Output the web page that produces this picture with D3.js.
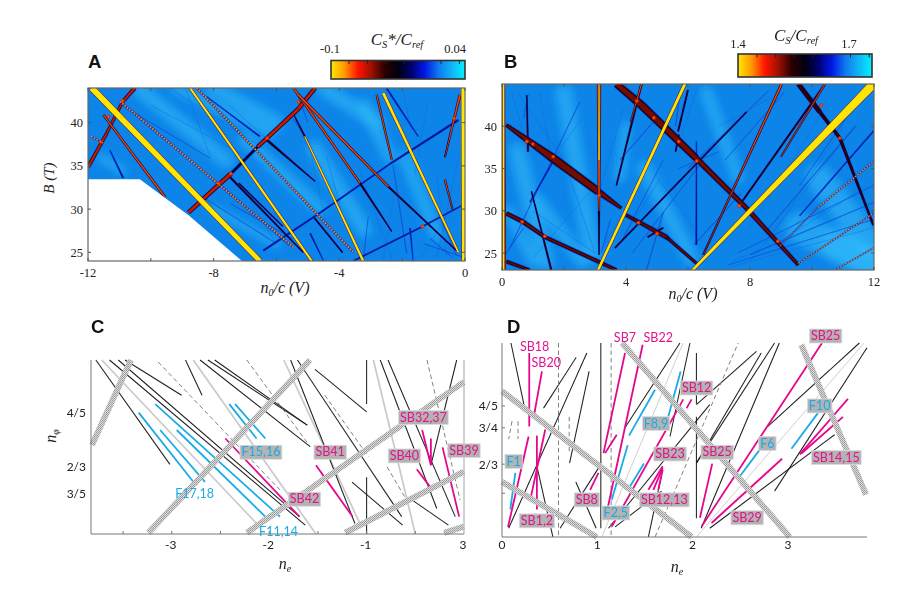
<!DOCTYPE html>
<html><head><meta charset="utf-8">
<script src="https://cdn.jsdelivr.net/npm/d3@7"></script>
<style>html,body{margin:0;background:#fff}svg{display:block}</style></head><body>
<svg id="c" width="900" height="608"></svg>
<script>
// ---------- Panel A ridges: [n0/c start, B start, n0/c end, B end, strength start, strength end]
const glowA=[[-10.4,44,-7.6,35.6,7],[-9.2,44,-6.2,38.8,5],[-7,38,-4.6,30,6],[-4.8,37,-3.2,27.6,7],[-3.2,42,-2.4,36,6],[-1.9,36,-.9,27,6],[-11.6,36,-10.9,34.4,4],[-8,30,-6,26,4],[-8,44,-6,40,7],[-4.5,44,-2.8,40,7]];
const fanA=[[-9.4,44,-6.4,37],[-8.9,44,-8.1,36],[-10,42,-6.4,35],[-7.5,42,-5.5,35.5],[-5,38,-4.4,28],[-4.4,36,-3.8,28],[-3.4,35,-2.3,24],[-1.2,42,-1.6,34],[-.9,34,-.6,24.6],[-.2,36,-.9,24.4],[-.3,31,-1.4,24.3],[-6.5,33,-5.5,25.5],[-7,32,-6,26],[-2.2,33,-2.6,24.2],[-8.2,30,-6.7,24.6],[-8.4,31,-7.1,25.8],[-2,44,-1.7,39]];
const navyA=[[-6.42,25.2,-4.6,29.6,1.3,1.3],[-4.6,29.6,-2.4,35.2,1.3,1.1],[-2.4,35.2,-.21,40.3,1.2,1.5],[-3.56,24,-1.4,27.9,1.1,1.1],[-1.4,27.9,0,30.6,1.1,.7],[-11.3,36.8,-10.88,33.6,.5,1.4],[-4.93,27.2,-4.5,24,1.2,.5],[-3.08,29.1,-3.24,24,.3,.8],[-1.75,27.8,-1.65,24,1,.3],[-2.29,35.1,-1.86,24.9,.5,.8],[-10.88,41.9,-8.12,35.9,.5,.3],[-8.22,43,-6.53,38.4,.4,1],[-7.45,30.6,-5.5,26.6,.4,.6],[-8.6,32,-6,26,.3,.4],[-2.5,44,-1.49,38.4,1.3,.6],[-5.46,40.4,-5.1,38.4,.5,.6],[-7.7,32.6,-5.6,25.8,.4,.8],[-.9,30,-.27,24.6,.7,.5],[-1.1,26.6,-.4,24.4,.5,.3],[-1.3,26,-.03,24.4,.5,.5],[-5.3,43,-5,40,.8,.4]];
const darkA=[[-6.31,38,-4.77,33.2,1.7,.3],[-7.48,33.7,-5.15,25,1.3,.5],[-3.34,33,-2.33,27.4,1.4,.4],[-2.44,32.6,-.27,25.2,1.2,.5],[-5.1,38.4,-5.46,41,1,.3],[-4.8,29,-3.9,25,.7,.7],[-.64,36,-.45,39,.6,.6],[-7.2,33,-5.8,28,.7,.3]];
const redA=[[-8.8,29.6,-7.45,34.1,3,3.4],[-6.6,37.2,-5.3,41.6,2.8,3.2],[-5.3,41.6,-4.77,44,3.2,2.8],[-11.99,34.9,-11.4,38.8,2.6,2],[-11.4,38.8,-10.9,42.4,1.8,1.8],[-10.9,42.4,-10.51,44,2.2,2.8]];
const blackBandA=[[-7.45,34.1,-6.6,37.2,2.2,2.2]];
const orangeA=[[-11.51,40.9,-9.55,31.4,1.2,1.4],[-2.81,43.2,-2.33,35.7,1,.8],[-.16,43.2,-.64,36,1.7,.5],[-.64,33.4,-.39,29.9,1,.5],[-5.46,44,-3.34,33,1.4,1.1],[-5.33,43.3,-2.44,32.6,1.8,1.3]];
const dotA=[[-10.98,42.45,-5.46,25.6,1.8,1.4],[-8.54,44,-3.55,25,1.6,1.6],[-11.9,38.4,-11.5,37.6,1.2,1.2]];
const yellowA=[[-11.88,44,-6.53,24,5.5,4.2],[-8.75,44,-4.88,24,1.7,1.7],[-5.1,38.4,-3.24,24,.6,1.9],[-2.6,43.4,-.21,25,2.4,1.2],[-.05,44,-.05,24,3.6,2.6]];
const spotsA=[[-10.9,42.5],[-11.35,40.7],[-11.6,37.8],[-6.3,38.2],[-7.45,34.1],[-7.85,33],[-1.35,28],[-5.3,42.4],[-.35,40.5]];
const maskA=[[-12,33.45],[-10.35,33.45],[-8.8,29.3],[-7.1,24],[-12,24]];
// ---------- Panel B ridges
const glowB=[[.5,37,1.4,24,8],[2,44,2.9,25,8],[1.2,31,2.6,24,6],[4.6,35,6.1,24.4,7],[6.6,44,7.6,34,6],[10.2,34,11.9,26,12],[9.6,28,11.8,24,14],[.2,30,1,24,5],[4,40,3.8,34,5],[10.8,26,11.9,24,14]];
const fanB=[[.3,44,.8,38],[.5,44,2,36],[1.2,44,1.6,36.4],[2.6,41,1.7,36.5],[2,36,3,25],[3,33,1,24.4],[1,30,3,25],[3.9,42,3.2,33],[3.8,29,3.1,25],[6.3,44.6,5.8,39],[5.1,33.8,3.7,25.6],[6.2,28,5,34],[10.4,42,8,28],[11,40,8.5,26],[11.6,41,8,24],[11.9,36,9,27],[11.8,33,8.8,26],[12,31,7.4,24],[12,28,7.4,23.4],[9,44,7,40]];
const navyB=[[2.51,42.9,.25,25.6,.5,.7],[1.7,36.2,.9,31,1,.8],[5.2,29.8,4.66,23,.7,.9],[6.27,38.2,6.27,26,.5,1.3],[5.75,44.2,5.6,40,.8,.8],[9.1,44,7.2,36,.5,.3],[8.6,44.2,6,35,.5,.4],[11.4,40,8.5,27.5,.9,.5],[12,39.5,9.6,29.4,1,.5],[7,37,5.7,35,.4,.4],[6.5,36,4.2,25,.3,.3],[5.2,36,3.8,26,.4,.4],[3.8,36,5,41,.5,.5],[.1,24.8,.7,28,.5,.5],[6.2,26,7.7,32,.4,.4],[7.6,25,12,33,.4,.4],[8,24.8,12,31,.4,.4],[7.3,23.6,12,29,.4,.4],[11.6,43.6,9.6,33,.5,.3],[3.5,29,3.2,25,.5,.5],[.85,43.8,.7,41,.4,.4]];
const darkB=[[.8,43.7,.84,37,.4,1.2],[.95,32.3,1.59,23,.5,1.2],[7.89,41.7,3.64,25.6,.7,.7],[4.5,45,3.69,33,1.4,.7],[6,44.3,5.68,39.4,.9,1],[5.7,39,5.6,37,1.2,.8],[10.42,45,7.67,30.7,1.1,1],[9.02,45,6.49,24.8,.7,1],[3.13,30,3.13,24.8,1.2,.4],[4.7,26.9,5.2,28,1,1],[9.56,45,10.25,41.7,4,4],[10.25,41.7,10.9,38.6,3,2.6],[10.9,38.6,11.98,28.3,2.6,1.4]];
const maroonB=[[.14,40.15,1.65,36.2,1.5,7],[1.65,36.2,3.1,32.3,7,6],[3.1,32.3,3.85,30.3,4.5,1.2],[.14,29.7,.68,28.7,2.4,2.6],[.68,28.7,1.38,26.9,2.6,1.8],[1.38,26.9,3.1,24,2,1.8],[3.1,24,3.7,23,1.8,1.2],[.14,24,.89,23,1.8,1],[4.0,29.5,5.3,26.9,1.4,2.8],[5.3,26.9,5.4,26.6,2.8,.6],[5.3,26.9,6.27,23.8,1.4,1.2],[3.69,45,4.5,42.5,5,6.4],[4.5,42.5,6.27,36.2,6.4,5],[6.27,36.2,7.89,30.3,4,2.8],[7.89,30.3,9.56,23.6,3,1.6]];
const orangeB=[[.03,45,.06,23,3,3],[3.13,45,3.13,32,3,1.4],[3.13,32,3.13,30,1.4,.6],[9.02,45,6.49,24.8,1.6,.4],[10.42,45,9,36.4,.9,.5],[4.5,45,4.15,40.5,1.1,.4]];
const dotB=[[10.2,30.4,11.98,35.8,1.1,1.1],[9.56,23.8,11.98,29.7,1,1],[10.74,23,11.98,25.6,.9,.9],[8.9,25.6,10.2,30.4,.6,.6]];
const yellowB=[[3.1,23,5.9,45,2,2.5],[6.15,23,11.98,45,2,8],[.05,45,.05,23,1.2,1.2],[3.13,45,3.13,36,.6,1]];
const spotsB=[[1.65,36.4],[.8,38.2],[1,37.9],[3.13,31.8],[6.28,35.9],[4.4,28.6],[5,27.3],[.65,28.7],[4.9,41],[5.7,38.2],[7.65,30.6],[8.9,26.4],[10.3,42.5],[10.9,38.6],[4.35,43],[1.38,27]];
// ---------- Panels C and D: [n_e start, n_phi start, n_e end, n_phi end]
const blackC=[[-3.78,.93,-3.02,.672],[-3.64,.93,-1.63,.522],[-3.55,.93,-1.69,.543],[-3.48,.93,-2.9,.843],[-2.86,.93,-2.69,.843],[-2.71,.93,-1.58,.716],[-2.63,.93,-1.61,.769],[-2.56,.93,-1.61,.769],[-1.53,.907,-1,.802],[-1.78,.93,-1.12,.526],[-1.71,.93,-.64,.543],[-1,.93,-1,.821],[-1,.64,-1,.5],[-1.15,.628,-.63,.522],[-.86,.93,-.28,.563],[-.78,.93,-.09,.543],[-.075,.93,-.34,.67],[-.52,.582,-.16,.522]];
const grayC=[[-3.72,.93,-2.13,.526],[-2.78,.93,-1.52,.5],[-1.85,.93,-1.07,.526],[-.93,.93,-.5,.5],[0,.93,0,.5]];
const dashC=[[-3.14,.925,-1.89,.609],[-2.23,.93,-1.58,.716],[-1.43,.843,-.98,.691],[-.79,.666,-.59,.584],[-.38,.93,-.04,.584]];
const blueC=[[-3.34,.8,-2.78,.629],[-3.12,.757,-2.66,.629],[-3.17,.821,-1.89,.543],[-2.95,.757,-2.04,.543],[-2.41,.821,-2.13,.736],[-2.35,.821,-2.04,.736]];
const pinkC=[[-2.45,.736,-1.69,.543],[-1.52,.67,-1.145,.543],[-.485,.66,-.35,.617],[-.43,.757,-.34,.67],[-.34,.736,-.34,.67],[-.22,.714,-.05,.543]];
const bandC=[[-3.82,.72,-3.42,.93],[-3.24,.503,-1.58,.93],[-2.23,.503,0,.876],[-1.22,.503,0,.654],[-.205,.503,0,.518]];
const labelsC=[["F15,16",-2.085,.702,"b",1],["SB41",-1.374,.702,"p",1],["SB42",-1.638,.586,"p",1],["SB32,37",-.417,.788,"p",1],["SB40",-.612,.693,"p",1],["SB39",0,.706,"p",1],["F17,18",-2.766,.599,"b",0],["F11,14",-1.904,.506,"b",0]];
const blackD=[[.094,.944,.234,.799],[.07,.52,.89,.921],[.436,.795,.778,.911],[.61,.52,1.01,.657],[1.29,.75,1.867,.944],[.914,.879,.709,.669],[.366,.662,.534,.5],[.775,.626,.988,.52],[1.037,.944,1.037,.52],[1.972,.944,1.763,.73],[1.187,.523,1.675,.605],[1.536,.5,1.675,.643],[2.04,.669,2.86,.944],[2.04,.803,2.67,.925],[2.04,.921,2.04,.805],[2.04,.775,2.04,.543],[2.04,.669,2.72,.921],[2.09,.52,2.91,.944],[2.79,.753,3.75,.944],[2.86,.605,3.83,.933],[2.18,.52,3.49,.734],[1.117,.52,2.18,.803]];
const grayD=[[1.047,.5,1.9,.944],[2.04,.5,3.8,.944]];
const dashD=[[.593,.944,.593,.5],[1.145,.944,1.145,.5],[.105,.765,.07,.724],[.168,.765,.168,.724],[.705,.775,.705,.692],[1.606,.5,2.478,.944]];
const blueD=[[.087,.563,.14,.647],[1.152,.585,1.319,.71],[1.333,.732,1.606,.837],[1.344,.616,1.49,.668],[1.745,.776,1.874,.879],[2.496,.639,2.705,.7],[3.037,.702,3.316,.784]];
const pinkD=[[.063,.523,.279,.73],[.286,.921,.286,.753],[.332,.773,.419,.879],[.297,.585,.454,.746],[.366,.732,.366,.563],[.925,.608,1.012,.647],[1.082,.692,1.204,.734],[1.065,.692,1.291,.921],[1.106,.563,1.476,.94],[1.152,.524,1.902,.815],[1.937,.795,1.99,.815],[1.536,.608,1.686,.662],[1.588,.608,1.686,.658],[1.64,.608,1.686,.654],[2.077,.544,2.206,.668],[2.094,.524,3.358,.944],[2.199,.532,2.939,.679],[3.124,.689,3.63,.816],[3.141,.691,3.578,.775]];
const bandD=[[0,.834,1.99,.5],[1.26,.944,3.02,.5],[0,.626,.995,.5],[3.14,.94,3.82,.597]];
const labelsD=[["SB18",.342,.935,"p",0],["SB20",.464,.898,"p",0],["SB7",1.29,.956,"p",0],["SB22",1.64,.956,"p",0],["SB25",3.396,.96,"p",1],["SB12",2.042,.841,"p",1],["F1",.122,.673,"b",1],["F8,9",1.616,.76,"b",1],["SB23",1.763,.69,"p",1],["SB25",2.258,.694,"p",1],["F6",2.785,.714,"b",1],["F10",3.333,.8,"b",1],["SB14,15",3.508,.682,"p",1],["SB8",.89,.585,"p",1],["SB12,13",1.703,.585,"p",1],["F2,5",1.194,.555,"b",1],["SB1,2",.366,.537,"p",1],["SB29",2.572,.544,"p",1]];
const colormap=["#ffe600","#ff9a00","#ff1500","#a01000","#2a0000","#000010","#00006e","#0018e6","#0f78ee","#12b4f4","#00f2ff"];
const ticksXA=[-12,-8,-4,0], ticksXB=[0,4,8,12], ticksYA=[25,30,35,40], ticksYB=[25,30,35,40];
const ticksC=[-3,-2,-1,0], tickNamesC=["-3","-2","-1","3"], fracsC=[.8,2/3,.6], fracNamesC=["4/5","2/3","3/5"];
const ticksD=[0,1,2,3], fracsD=[.8,.75,2/3,.6], fracNamesD=["4/5","3/4","2/3",""];

const svg=d3.select("#c");
const defs=svg.append("defs");
const serif="'Liberation Serif',serif", sans="'Lato','Open Sans',sans-serif";
defs.append("filter").attr("id","soft").attr("x","-5%").attr("y","-5%").attr("width","110%").attr("height","110%")
  .append("feGaussianBlur").attr("stdDeviation",.6);
defs.append("filter").attr("id","wide").attr("x","-30%").attr("y","-30%").attr("width","160%").attr("height","160%")
  .append("feGaussianBlur").attr("stdDeviation",4);
defs.append("filter").attr("id","soften").attr("x","-5%").attr("y","-5%").attr("width","110%").attr("height","110%")
  .append("feGaussianBlur").attr("stdDeviation",.35);
const hat=defs.append("pattern").attr("id","hatch").attr("width",2).attr("height",2).attr("patternUnits","userSpaceOnUse");
hat.append("rect").attr("width",2).attr("height",2).attr("fill","#dcdcdc");
hat.append("rect").attr("width",1).attr("height",1).attr("fill","#989898");
hat.append("rect").attr("x",1).attr("y",1).attr("width",1).attr("height",1).attr("fill","#a4a4a4");
const grad=defs.append("linearGradient").attr("id","cmap");
colormap.forEach((c,i)=>grad.append("stop").attr("offset",i/(colormap.length-1)).attr("stop-color",c));

function wedge(g,sx,sy,rows,layers){
  rows.forEach(r=>{
    const [x1,y1,x2,y2,s1,s2]=r;
    const a=[sx(x1),sy(y1)],b=[sx(x2),sy(y2)];
    const L=Math.hypot(b[0]-a[0],b[1]-a[1])||1, nx=-(b[1]-a[1])/L, ny=(b[0]-a[0])/L;
    layers.forEach(l=>{
      if(l.dash){
        g.append("line").attr("x1",a[0]).attr("y1",a[1]).attr("x2",b[0]).attr("y2",b[1]).attr("stroke",l.c).attr("stroke-width",(s1+s2)/2*l.k+l.add).attr("stroke-dasharray",l.dash);
        return;
      }
      const h1=Math.max(s1*l.k+l.add,.15)/2,h2=Math.max(s2*l.k+l.add,.15)/2;
      const poly=[[a[0]+nx*h1,a[1]+ny*h1],[b[0]+nx*h2,b[1]+ny*h2],[b[0]-nx*h2,b[1]-ny*h2],[a[0]-nx*h1,a[1]-ny*h1]];
      g.append("path").attr("d",d3.line()(poly)+"Z").attr("fill",l.c).attr("opacity",l.o||1);
    });
  });
}
const LAY={
 faint:[{c:"#0a46d0",k:1,add:.5,o:.7}],
 navy:[{c:"#0a3ed8",k:1,add:1.2,o:.7},{c:"#00108e",k:1,add:0}],
 dark:[{c:"#0a2fd0",k:1,add:1.4,o:.7},{c:"#000050",k:1,add:.5},{c:"#2a0008",k:1,add:0}],
 black:[{c:"#0a2fd0",k:1,add:1.4,o:.7},{c:"#000030",k:1,add:0}],
 red:[{c:"#0a20b0",k:1,add:1.8,o:.7},{c:"#200010",k:1,add:.9},{c:"#c81a00",k:.9,add:0}],
 maroon:[{c:"#0a20b0",k:1,add:3,o:.65},{c:"#100010",k:1,add:1.4},{c:"#6e0800",k:.9,add:0}],
 orange:[{c:"#0a20b0",k:1,add:1.6,o:.7},{c:"#300000",k:1,add:.8},{c:"#f04a00",k:1,add:0}],
 dot:[{c:"#0a2ab8",k:1,add:1,o:.7},{c:"#ff8a00",k:1,add:.2,dash:"1.6 1.4"}],
 yellow:[{c:"#0a2ab8",k:1,add:1.5,o:.6},{c:"#6a1000",k:1,add:.9},{c:"#ff9a00",k:1,add:.4},{c:"#ffe600",k:1,add:0}]
};
function frameTicks(g,sx,sy,xt,yt,xminor,yminor){
  const r=sx.range(),t=sy.range();
  g.append("rect").attr("x",r[0]).attr("y",t[1]).attr("width",r[1]-r[0]).attr("height",t[0]-t[1]).attr("fill","none").attr("stroke","#666").attr("stroke-width",1.2);
  xminor.forEach(v=>{[[t[0],-3],[t[1],3]].forEach(([y,d])=>g.append("line").attr("x1",sx(v)).attr("x2",sx(v)).attr("y1",y).attr("y2",y+d).attr("stroke","#555"));});
  yminor.forEach(v=>{[[r[0],3],[r[1],-3]].forEach(([x,d])=>g.append("line").attr("y1",sy(v)).attr("y2",sy(v)).attr("x1",x).attr("x2",x+d).attr("stroke","#555"));});
  xt.forEach(v=>g.append("text").attr("x",sx(v)).attr("y",t[0]+16).attr("text-anchor","middle").attr("font-family",serif).attr("font-size",12.5).attr("fill","#222").text(v));
  yt.forEach(v=>g.append("text").attr("x",r[0]-5).attr("y",sy(v)+4.5).attr("text-anchor","end").attr("font-family",serif).attr("font-size",12.5).attr("fill","#222").text(v));
}
function heat(id,sx,sy,base,glow,fan,groups,spots,mask){
  const r=sx.range(),t=sy.range();
  defs.append("clipPath").attr("id",id).append("rect").attr("x",r[0]).attr("y",t[1]).attr("width",r[1]-r[0]).attr("height",t[0]-t[1]);
  const g=svg.append("g").attr("clip-path",`url(#${id})`);
  const f=g.append("g").attr("filter","url(#soft)");
  f.append("rect").attr("x",r[0]-3).attr("y",t[1]-3).attr("width",r[1]-r[0]+6).attr("height",t[0]-t[1]+6).attr("fill",base);
  const gl=f.append("g").attr("filter","url(#wide)");
  glow.forEach(d=>gl.append("line").attr("x1",sx(d[0])).attr("y1",sy(d[1])).attr("x2",sx(d[2])).attr("y2",sy(d[3])).attr("stroke","#34bdfa").attr("stroke-width",d[4]*2.2).attr("stroke-linecap","round").attr("opacity",.55));
  fan.forEach(d=>f.append("line").attr("x1",sx(d[0])).attr("y1",sy(d[1])).attr("x2",sx(d[2])).attr("y2",sy(d[3])).attr("stroke","#0a62da").attr("stroke-width",.7).attr("opacity",.5));
  groups.forEach(([rows,kind])=>{
    if(kind==="navy"){
      wedge(f,sx,sy,rows.filter(r=>Math.max(r[4],r[5])<.95),LAY.faint);
      wedge(f,sx,sy,rows.filter(r=>Math.max(r[4],r[5])>=.95),LAY.navy);
    } else wedge(f,sx,sy,rows,LAY[kind]);
  });
  spots.forEach(s=>{f.append("circle").attr("cx",sx(s[0])).attr("cy",sy(s[1])).attr("r",1.9).attr("fill","#e02800");
    f.append("circle").attr("cx",sx(s[0])).attr("cy",sy(s[1])).attr("r",.7).attr("fill","#ff8a00");});
  if(mask) g.append("path").attr("d",d3.line().x(d=>sx(d[0])).y(d=>sy(d[1]))(mask)+"Z").attr("fill","#fff");
  return g;
}
function mathLabel(x,y,parts,size,rot){
  const t=svg.append("text").attr("font-family",serif).attr("font-size",size).attr("font-style","italic").attr("fill","#222").attr("text-anchor","middle");
  if(rot) t.attr("transform",`translate(${x},${y}) rotate(-90)`); else t.attr("x",x).attr("y",y);
  parts.forEach(p=>{const s=t.append("tspan").text(p[0]);
    if(p[1]){s.attr("dy",p[1]); if(p[1]>0) s.attr("font-size",size*.62);}});
}
function panelLetter(s,x,y){svg.append("text").attr("x",x).attr("y",y).attr("font-family","'Liberation Sans',sans-serif").attr("font-weight","bold").attr("font-size",18.5).attr("fill","#111").text(s);}
function colorbar(x0,x1,y0,y1,ticks){
  svg.append("rect").attr("x",x0).attr("y",y0).attr("width",x1-x0).attr("height",y1-y0).attr("fill","url(#cmap)").attr("stroke","#333").attr("stroke-width",1.6);
  ticks.forEach(t=>svg.append("line").attr("x1",t).attr("x2",t).attr("y1",y0).attr("y2",y0+3.5).attr("stroke","#222"));
}

// Panel A
const xA=d3.scaleLinear([-12,0],[88,465]), yA=d3.scaleLinear([24,44],[261,88]);
heat("clipA",xA,yA,"#0c84e8",glowA,fanA,[[navyA,"navy"],[darkA,"dark"],[blackBandA,"black"],[redA,"red"],[orangeA,"orange"],[dotA,"dot"],[yellowA,"yellow"]],spotsA,maskA);
frameTicks(svg,xA,yA,ticksXA,ticksYA,d3.range(-12,1,2),d3.range(25,45,5));
colorbar(331,465,60.5,79,d3.range(7).map(i=>349+i*18.4));
svg.append("text").attr("x",330).attr("y",53).attr("font-family",serif).attr("font-size",12.5).attr("fill","#222").attr("text-anchor","middle").text("-0.1");
svg.append("text").attr("x",466).attr("y",53).attr("font-family",serif).attr("font-size",12.5).attr("fill","#222").attr("text-anchor","end").text("0.04");
mathLabel(397,45,[["C"],["S",3],["*/C",-3],["ref",3]],17);
mathLabel(285,293,[["n"],["0",3],["/c (V)",-3]],16);
mathLabel(54,178,[["B (T)"]],15,true);
panelLetter("A",88,68);

// Panel B
const xB=d3.scaleLinear([0,12],[502,874]), yB=d3.scaleLinear([23,45],[270,84]);
heat("clipB",xB,yB,"#0c84e8",glowB,fanB,[[navyB,"navy"],[darkB,"dark"],[maroonB,"maroon"],[orangeB,"orange"],[dotB,"dot"],[yellowB,"yellow"]],spotsB,null);
frameTicks(svg,xB,yB,ticksXB,ticksYB,d3.range(0,13,2),d3.range(25,45,5));
colorbar(738,872,54,77,d3.range(7).map(i=>757+i*18.7));
svg.append("text").attr("x",738).attr("y",48).attr("text-anchor","middle").attr("font-family",serif).attr("font-size",12.5).attr("fill","#222").text("1.4");
svg.append("text").attr("x",849).attr("y",48).attr("text-anchor","middle").attr("font-family",serif).attr("font-size",12.5).attr("fill","#222").text("1.7");
mathLabel(796,41,[["C"],["S",3],["/C",-3],["ref",3]],17);
mathLabel(693,299,[["n"],["0",3],["/c (V)",-3]],16);
panelLetter("B",504,68);

// Line panels
function segs(g,sx,sy,rows,color,w,dash){
  g.selectAll(null).data(rows).join("line").attr("x1",d=>sx(d[0])).attr("y1",d=>sy(d[1])).attr("x2",d=>sx(d[2])).attr("y2",d=>sy(d[3]))
   .attr("stroke",color).attr("stroke-width",w).attr("stroke-dasharray",dash||null);
}
function bands(g,sx,sy,rows,w){
  const h=g.append("g").attr("filter","url(#soften)");
  rows.forEach(d=>{
    const a=[sx(d[0]),sy(d[1])],b=[sx(d[2]),sy(d[3])],L=Math.hypot(b[0]-a[0],b[1]-a[1]),nx=-(b[1]-a[1])/L*w/2,ny=(b[0]-a[0])/L*w/2;
    h.append("path").attr("d",d3.line()([[a[0]+nx,a[1]+ny],[b[0]+nx,b[1]+ny],[b[0]-nx,b[1]-ny],[a[0]-nx,a[1]-ny]])+"Z").attr("fill","url(#hatch)");
  });
}
function labels(g,sx,sy,rows){
  rows.forEach(([s,x,y,k,bg])=>{
    const col=k==="p"?"#e5128c":"#1aabe6";
    const t=g.append("text").attr("x",sx(x)).attr("y",sy(y)+4.2).attr("text-anchor","middle").attr("font-family",sans).attr("font-size",12.5).attr("fill",col).text(s);
    if(bg){const bb=t.node().getBBox();
      g.append("rect").attr("x",bb.x-1.5).attr("y",sy(y)-7).attr("width",bb.width+3).attr("height",14).attr("fill","#b3b3b3").attr("stroke","#ddd").attr("stroke-width",.8);
      t.raise();}
  });
}
function linePanel(sx,sy,data){
  const g=svg.append("g"), r=sx.range(), t=sy.range();
  segs(g,sx,sy,data.gray,"#c9c9c9",data.grayW);
  segs(g,sx,sy,data.black,"#1f1f1f",1.05);
  segs(g,sx,sy,data.dash,"#808080",1,"4.5 3");
  segs(g,sx,sy,data.blue,"#17ace6",1.8);
  segs(g,sx,sy,data.pink,"#e5078c",1.8);
  bands(g,sx,sy,data.band,6);
  g.append("path").attr("d",`M${r[0]},${t[1]}V${t[0]}H${r[1]}`).attr("fill","none").attr("stroke","#777").attr("stroke-width",1);
  return g;
}
// Panel C
const xC=d3.scaleLinear([-3.83,0],[91,464]), yC=d3.scaleLinear([.5,.93],[534,360]);
const gC=linePanel(xC,yC,{gray:grayC,grayW:1.7,black:blackC,dash:dashC,blue:blueC,pink:pinkC,band:bandC});
ticksC.forEach((v,i)=>gC.append("text").attr("x",xC(v)-1).attr("y",549).attr("text-anchor","middle").attr("font-family",sans).attr("font-size",12).attr("fill","#222").text(tickNamesC[i]));
d3.range(-3.5,0,.5).forEach(v=>gC.append("line").attr("x1",xC(v)).attr("x2",xC(v)).attr("y1",534).attr("y2",531).attr("stroke","#777"));
fracsC.forEach((v,i)=>gC.append("text").attr("x",86).attr("y",yC(v)+4.5).attr("text-anchor","end").attr("font-family",sans).attr("font-size",12).attr("fill","#222").text(fracNamesC[i]));
labels(gC,xC,yC,labelsC);
mathLabel(285,569,[["n"],["e",3]],16);
mathLabel(56,436,[["n"],["φ",3]],16,true);
panelLetter("C",91,333);
// Panel D
const xD=d3.scaleLinear([0,3.83],[502,867]), yD=d3.scaleLinear([.5,.944],[537,343]);
const gD=linePanel(xD,yD,{gray:grayD,grayW:.9,black:blackD,dash:dashD,blue:blueD,pink:pinkD,band:bandD});
ticksD.forEach(v=>gD.append("text").attr("x",xD(v)).attr("y",549).attr("text-anchor","middle").attr("font-family",sans).attr("font-size",12).attr("fill","#222").text(v));
fracsD.forEach((v,i)=>{gD.append("line").attr("x1",502).attr("x2",505).attr("y1",yD(v)).attr("y2",yD(v)).attr("stroke","#777");
  gD.append("text").attr("x",498).attr("y",yD(v)+4.5).attr("text-anchor","end").attr("font-family",sans).attr("font-size",12).attr("fill","#222").text(fracNamesD[i]);});
labels(gD,xD,yD,labelsD);
mathLabel(677,572,[["n"],["e",3]],16);
panelLetter("D",507,333);
</script></body></html>
